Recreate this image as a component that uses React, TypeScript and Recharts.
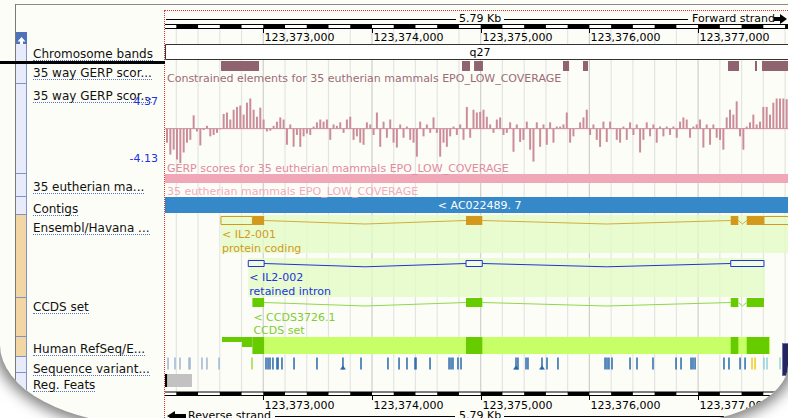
import React from "react";
import {
  ComposedChart,
  BarChart,
  Bar,
  XAxis,
  YAxis,
  ReferenceArea,
  ReferenceLine,
  ReferenceDot,
} from "recharts";

const FONT = "'DejaVu Sans', Verdana, sans-serif";

// visible window (bp)
const VIEW_START = 123372096;
const VIEW_END = 123377827;
const WINDOW_END = 123377886; // 5.79 Kb

const kbTicks = [123373000, 123374000, 123375000, 123376000, 123377000];
const gridTicks = Array.from({ length: 29 }, (_, i) => 123372200 + i * 200);

const trackLabels = [
  { text: "Chromosome bands", y: 52 },
  { text: "35 way GERP scor...", y: 71 },
  { text: "35 way GERP scor...", y: 94 },
  { text: "35 eutherian ma...", y: 185 },
  { text: "Contigs", y: 207 },
  { text: "Ensembl/Havana ...", y: 226 },
  { text: "CCDS set", y: 305 },
  { text: "Human RefSeq/E...", y: 347 },
  { text: "Sequence variant...", y: 367 },
  { text: "Reg. Feats", y: 383 },
];

const gerpRangeLabels = ["4.37", "-4.13"];

const constrainedElements: [number, number][] = [
  [123372611, 123372961],
  [123374828, 123374902],
  [123374939, 123375021],
  [123375757, 123375813],
  [123375941, 123375987],
  [123377275, 123377376],
  [123377523, 123377542],
  [123377588, 123377900],
];

// GERP scores, one value per ~30 bp, left to right
const gerpScores = [
  -2.0, -3.7, -3.0, -4.4, -4.9, -3.4, -2.0, -1.6, 1.9, -0.4, -2.4, -0.2, 0.4, -1.1, -0.9, -0.6, -0.1, 2.1, 2.3, 1.3,
  2.7, 3.1, 3.3, 2.0, 3.7, 4.3, 2.7, 1.7, 3.0, 1.3, -0.4, -0.3, 0.4, 1.0, 1.6, 1.3, -2.3, 0.6, -2.6,
  -0.9, -2.6, -1.1, -0.7, -0.9, 0.3, 0.9, 1.3, 1.0, 1.3, -1.6, 0.6, 0.4, 0.9, -0.6, 1.3, 1.7, -1.6, -1.1, -2.0,
  -2.3, 0.9, 0.6, -0.9, 2.3, -2.6, 1.0, -1.3, 1.3, -2.0, -2.7, 0.6, -1.3, 0.3, -1.6, -2.0, -4.0, 1.0, -1.1,
  0.6, -0.6, 1.6, -0.6, -4.0, -2.0, -2.6, -1.1, 0.3, -0.9, 0.6, -1.6, 3.1, -1.3, 2.7, 2.3, 2.4, 2.7, 1.7, 0.6,
  -0.6, 1.3, 1.6, -0.9, -0.6, 0.9, -3.3, 0.6, -1.9, -1.6, 1.0, -3.0, -4.7, 0.9, -2.6, 0.6, -2.3, 0.9, -2.0,
  0.3, 0.3, 0.6, 2.3, -2.0, -1.1, 0.1, 0.9, 1.6, 2.7, -0.9, 0.6, -1.6, -2.6, 1.0, -1.9, 1.0, 0.1, -1.6, -2.0,
  0.3, -1.6, 0.9, -0.9, 0.6, -3.4, -1.6, 0.9, -1.1, 0.6, -2.0, 0.3, -1.1, 0.3, -0.9, 0.3, -1.3, 1.0, 1.6,
  1.3, -1.3, 0.3, 0.6, 1.3, -2.7, 0.6, -2.3, 0.6, -1.3, -1.6, -3.0, 1.6, 2.7, 2.0, 3.9, -1.1, -3.0, 0.3, 0.9,
  2.0, 0.6, 1.0, 3.1, 3.1, 2.0, 3.7, 4.3, 4.3, 4.3, 4.2,
];

// IL2-001 (protein coding)
const il2001Span: [number, number] = [123372611, 123377900];
const il2001Utr: [number, number][] = [
  [123372611, 123372900],
  [123377606, 123377900],
];
const il2001Exons: [number, number][] = [
  [123372900, 123373008],
  [123374865, 123375015],
  [123377300, 123377370],
  [123377447, 123377606],
];

// IL2-002 (retained intron)
const il2002Span: [number, number] = [123372862, 123377615];
const il2002Exons: [number, number][] = [
  [123372862, 123373008],
  [123374865, 123375015],
  [123377300, 123377606],
];

// CCDS3726.1
const ccdsExons: [number, number][] = [
  [123372900, 123373008],
  [123374865, 123375015],
  [123377300, 123377370],
  [123377447, 123377606],
];

// Human RefSeq/EST
const refseqSpan: [number, number] = [123373008, 123377662];
const refseqBlocks: [number, number, string][] = [
  [123372620, 123372804, "thin"],
  [123372804, 123372900, "step"],
  [123372900, 123373008, "full"],
  [123374865, 123375015, "full"],
  [123377300, 123377370, "full"],
  [123377447, 123377653, "full"],
];

const variantSites: [number, string][] = [
  [123372124, "light"], [123372188, "light"], [123372234, "light"], [123372317, "light"],
  [123372326, "light"], [123372436, "light"], [123372482, "light"], [123372593, "light"],
  [123372896, "green"],
  [123373025, "dark"], [123373044, "dark"], [123373062, "dark"], [123373089, "dark"],
  [123373126, "dark"], [123373136, "dark"], [123373172, "dark"], [123373283, "dark"],
  [123373494, "dark"], [123373733, "dark"], [123373899, "dark"], [123374147, "dark"],
  [123374249, "dark"], [123374322, "dark"], [123374396, "dark"], [123374405, "dark"],
  [123374534, "dark"], [123374709, "dark"], [123374727, "dark"], [123374745, "dark"],
  [123374791, "dark"], [123374819, "dark"], [123375325, "dark"], [123375343, "dark"],
  [123375417, "dark"], [123375435, "dark"], [123375564, "dark"], [123375610, "dark"],
  [123375711, "dark"], [123376144, "dark"], [123376162, "dark"], [123376180, "dark"],
  [123376208, "dark"], [123376374, "dark"], [123376438, "dark"], [123376585, "dark"],
  [123376797, "dark"], [123376843, "dark"], [123376935, "dark"], [123376953, "dark"],
  [123376972, "dark"], [123377238, "dark"], [123377284, "dark"], [123377386, "dark"],
  [123377432, "dark"], [123377496, "yellow"], [123377524, "yellow"],
  [123377606, "cyan"], [123377634, "cyan"], [123377754, "cyan"],
];
const variantTriangles = [123373733, 123375325, 123375564];

const regFeatures: [number, number, string][] = [
  [123372000, 123372344, "gray"],
  [123372000, 123372115, "black"],
];

// ---- layout / style ----
const PLOT_LEFT = 165;
const PLOT_W = 623;
const H = 418;

const ROW = {
  ruler: [24.5, 28.5],
  band: [44.5, 59.5],
  constrained: [61, 71],
  pink: [174, 183],
  contig: [197, 213],
  gene1Bg: [215, 253],
  gene1Box: [216.5, 224.5],
  gene1Mid: 220.5,
  gene2Bg: [258, 297],
  gene2Box: [260.5, 266.5],
  gene2Mid: 263.5,
  ccdsBox: [298, 307],
  ccdsMid: 302.5,
  refseq: [337, 354],
  variants: [357.5, 369.5],
  reg: [374, 387],
  rulerBottom: [392, 395.5],
};

const VARIANT_COLORS: Record<string, string> = {
  light: "#9db6d4",
  dark: "#2a68ac",
  green: "#99dd44",
  yellow: "#f2c81e",
  cyan: "#93cfdc",
};

const GOLD = "#d3991d";
const BLUE = "#2233dd";
const GREEN = "#66cc00";

const frame = [{ x: VIEW_START }, { x: VIEW_END }];

function RulerTick(props: any) {
  const { x, payload } = props;
  const xx = Math.round(x) + 0.5;
  const label = Number(payload.value).toLocaleString("en-US");
  return (
    <g>
      <line x1={xx} x2={xx} y1={28} y2={33} stroke="#000" />
      <text x={xx + 1} y={41} fontSize={11} fontFamily={FONT} fill="#000" textAnchor="start">
        {label}
      </text>
      <line x1={xx} x2={xx} y1={395} y2={400} stroke="#000" />
      <text x={xx + 1} y={408.5} fontSize={11} fontFamily={FONT} fill="#000" textAnchor="start">
        {label}
      </text>
    </g>
  );
}

const stackedLabel = (lines: string[], color: string, baselines: number[]) => (props: any) => {
  const vb = props.viewBox || { x: 0, y: 0 };
  return (
    <text fill={color} fontSize={11} fontFamily={FONT}>
      {lines.map((l, i) => (
        <tspan key={i} x={vb.x + 1} y={vb.y + baselines[i]}>
          {l}
        </tspan>
      ))}
    </text>
  );
};

function introns(exons: [number, number][], mid: number, depth: number, color: string, key: string) {
  const out: React.ReactNode[] = [];
  for (let i = 0; i < exons.length - 1; i++) {
    const a = exons[i][1];
    const b = exons[i + 1][0];
    const m = (a + b) / 2;
    out.push(
      <ReferenceLine
        key={`${key}-a${i}`}
        segment={[{ x: a, y: mid }, { x: m, y: mid + depth }]}
        stroke={color}
        ifOverflow="hidden"
      />,
      <ReferenceLine
        key={`${key}-b${i}`}
        segment={[{ x: m, y: mid + depth }, { x: b, y: mid }]}
        stroke={color}
        ifOverflow="hidden"
      />
    );
  }
  return out;
}

const axisX = (withTicks: boolean) => (
  <XAxis
    dataKey="x"
    type="number"
    domain={[VIEW_START, VIEW_END]}
    allowDataOverflow
    ticks={withTicks ? kbTicks : []}
    interval={0}
    height={1}
    axisLine={false}
    tickLine={false}
    tick={withTicks ? <RulerTick /> : false}
  />
);

function GridChart() {
  return (
    <ComposedChart width={PLOT_W} height={H + 1} data={frame} margin={{ top: 0, right: 0, bottom: 0, left: 0 }}>
      {axisX(false)}
      <YAxis type="number" domain={[0, H]} reversed hide allowDataOverflow />
      {gridTicks.map((t) => (
        <ReferenceLine
          key={t}
          segment={[{ x: t, y: 28 }, { x: t, y: 392 }]}
          stroke={t % 1000 === 0 ? "#cfcfcf" : "#e4e4e4"}
          strokeWidth={1.2}
          ifOverflow="hidden"
        />
      ))}
    </ComposedChart>
  );
}

function TrackChart() {
  return (
    <ComposedChart width={PLOT_W} height={H + 1} data={frame} margin={{ top: 0, right: 0, bottom: 0, left: 0 }}>
      {axisX(true)}
      <YAxis type="number" domain={[0, H]} reversed hide allowDataOverflow />

      {/* top ruler */}
      <ReferenceArea x1={VIEW_START - 200} x2={WINDOW_END} y1={ROW.ruler[0]} y2={ROW.ruler[1]} fill="#fff" fillOpacity={1} stroke="#000" ifOverflow="hidden" />
      {gridTicks.filter((_, i) => i % 2 === 0).map((t) => (
        <ReferenceArea key={`rt${t}`} x1={t} x2={t + 200} y1={ROW.ruler[0]} y2={ROW.ruler[1]} fill="#000" fillOpacity={1} ifOverflow="hidden" />
      ))}

      {/* chromosome band */}
      <ReferenceArea
        x1={VIEW_START + 5}
        x2={WINDOW_END}
        y1={ROW.band[0]}
        y2={ROW.band[1]}
        fill="#fff"
        fillOpacity={1}
        stroke="#333"
        ifOverflow="hidden"
        label={{ value: "q27", position: "center", fill: "#000", fontSize: 11, fontFamily: FONT }}
      />

      {/* constrained elements */}
      {constrainedElements.map(([a, b]) => (
        <ReferenceArea key={`ce${a}`} x1={a} x2={b} y1={ROW.constrained[0]} y2={ROW.constrained[1]} fill="#8f6470" fillOpacity={1} ifOverflow="hidden" />
      ))}

      {/* EPO low coverage band */}
      <ReferenceArea x1={VIEW_START} x2={WINDOW_END} y1={ROW.pink[0]} y2={ROW.pink[1]} fill="#f0a8b8" fillOpacity={1} ifOverflow="hidden" />

      {/* contig */}
      <ReferenceArea
        x1={VIEW_START}
        x2={WINDOW_END}
        y1={ROW.contig[0]}
        y2={ROW.contig[1]}
        fill="#3689c9"
        fillOpacity={1}
        ifOverflow="hidden"
        label={{ value: "< AC022489. 7", position: "center", fill: "#fff", fontSize: 11, fontFamily: FONT }}
      />

      {/* transcript backgrounds */}
      <ReferenceArea
        x1={il2001Span[0]}
        x2={il2001Span[1]}
        y1={ROW.gene1Bg[0]}
        y2={ROW.gene1Bg[1]}
        fill="#e2fbc4"
        fillOpacity={0.8}
        ifOverflow="hidden"
        label={stackedLabel(["< IL2-001", "protein coding"], GOLD, [23, 37])}
      />
      <ReferenceArea
        x1={il2002Span[0]}
        x2={il2002Span[1]}
        y1={ROW.gene2Bg[0]}
        y2={ROW.gene2Bg[1]}
        fill="#e2fbc4"
        fillOpacity={0.8}
        ifOverflow="hidden"
        label={stackedLabel(["< IL2-002", "retained intron"], BLUE, [23, 37])}
      />

      {/* IL2-001 */}
      {introns(il2001Exons, ROW.gene1Mid, 3.5, "#d8aa3c", "g1")}
      {il2001Utr.map(([a, b]) => (
        <ReferenceArea key={`u1${a}`} x1={a} x2={b} y1={ROW.gene1Box[0]} y2={ROW.gene1Box[1]} fill="none" stroke={GOLD} ifOverflow="hidden" />
      ))}
      {il2001Exons.map(([a, b]) => (
        <ReferenceArea key={`e1${a}`} x1={a} x2={b} y1={ROW.gene1Box[0] - 0.5} y2={ROW.gene1Box[1] + 0.5} fill={GOLD} fillOpacity={1} ifOverflow="hidden" />
      ))}

      {/* IL2-002 */}
      {introns(il2002Exons, ROW.gene2Mid, 3.3, BLUE, "g2")}
      {il2002Exons.map(([a, b]) => (
        <ReferenceArea key={`e2${a}`} x1={a} x2={b} y1={ROW.gene2Box[0]} y2={ROW.gene2Box[1]} fill="#fff" fillOpacity={0.4} stroke={BLUE} ifOverflow="hidden" />
      ))}

      {/* CCDS */}
      {introns(ccdsExons, ROW.ccdsMid, 3.5, "#8fd84a", "cc")}
      {ccdsExons.map(([a, b], i) => (
        <ReferenceArea
          key={`cc${a}`}
          x1={a}
          x2={b}
          y1={ROW.ccdsBox[0]}
          y2={ROW.ccdsBox[1]}
          fill={GREEN}
          fillOpacity={1}
          ifOverflow="hidden"
          label={i === 0 ? stackedLabel(["< CCDS3726.1", "CCDS set"], "#80cc33", [23, 36]) : undefined}
        />
      ))}

      {/* RefSeq / EST */}
      <ReferenceArea x1={refseqSpan[0]} x2={refseqSpan[1]} y1={ROW.refseq[0]} y2={ROW.refseq[1]} fill="#c6ff66" fillOpacity={1} ifOverflow="hidden" />
      {refseqBlocks.map(([a, b, kind]) => (
        <ReferenceArea
          key={`rs${a}`}
          x1={a}
          x2={b}
          y1={ROW.refseq[0]}
          y2={kind === "thin" ? ROW.refseq[0] + 5 : kind === "step" ? ROW.refseq[0] + 10 : ROW.refseq[1]}
          fill={GREEN}
          fillOpacity={1}
          ifOverflow="hidden"
        />
      ))}

      {/* sequence variants */}
      {variantSites.map(([p, kind]) => (
        <ReferenceLine
          key={`v${p}`}
          segment={[{ x: p, y: ROW.variants[0] }, { x: p, y: ROW.variants[1] }]}
          stroke={VARIANT_COLORS[kind]}
          strokeWidth={1.5}
          ifOverflow="hidden"
        />
      ))}
      {variantTriangles.map((p) => (
        <ReferenceDot
          key={`t${p}`}
          x={p}
          y={367.5}
          r={3}
          ifOverflow="hidden"
          shape={(s: any) => (
            <path d={`M${s.cx - 3},${s.cy + 2} L${s.cx},${s.cy - 2} L${s.cx + 3},${s.cy + 2} Z`} fill={VARIANT_COLORS.dark} />
          )}
        />
      ))}

      {/* regulatory features */}
      {regFeatures.map(([a, b, kind]) => (
        <ReferenceArea key={`rf${kind}`} x1={a} x2={b} y1={ROW.reg[0]} y2={ROW.reg[1]} fill={kind === "black" ? "#000" : "#c2c2c2"} fillOpacity={1} ifOverflow="hidden" />
      ))}

      {/* bottom ruler */}
      <ReferenceArea x1={VIEW_START - 200} x2={WINDOW_END} y1={ROW.rulerBottom[0]} y2={ROW.rulerBottom[1]} fill="#fff" fillOpacity={1} stroke="#000" ifOverflow="hidden" />
      {gridTicks.filter((_, i) => i % 2 === 0).map((t) => (
        <ReferenceArea key={`rb${t}`} x1={t} x2={t + 200} y1={ROW.rulerBottom[0]} y2={ROW.rulerBottom[1]} fill="#000" fillOpacity={1} ifOverflow="hidden" />
      ))}
    </ComposedChart>
  );
}

function GerpChart() {
  const data = gerpScores.map((v, i) => ({ i, v }));
  return (
    <BarChart width={PLOT_W} height={65} data={data} margin={{ top: 0, right: 0, bottom: 0, left: 0 }} barCategoryGap={0}>
      <XAxis dataKey="i" hide />
      <YAxis type="number" domain={[-4.9, 4.37]} hide allowDataOverflow />
      <ReferenceLine y={0} stroke="#cc8d9a" />
      <Bar dataKey="v" fill="#cc8d9a" barSize={2} isAnimationActive={false} />
    </BarChart>
  );
}

const abs = (extra: React.CSSProperties): React.CSSProperties => ({ position: "absolute", ...extra });

export default function App() {
  const cells = [
    { top: 44, bottom: 84, c: "#e8ecfa" },
    { top: 84, bottom: 174, c: "#e8ecfa" },
    { top: 174, bottom: 197, c: "#e8ecfa" },
    { top: 197, bottom: 215, c: "#e8ecfa" },
    { top: 215, bottom: 298, c: "#f2d6a4" },
    { top: 298, bottom: 337, c: "#f2d6a4" },
    { top: 337, bottom: 357, c: "#f2d6a4" },
    { top: 357, bottom: 373, c: "#e8ecfa" },
    { top: 373, bottom: 392, c: "#e8ecfa" },
    { top: 392, bottom: 430, c: "#e8ecfa" },
  ];
  const trackText = (text: string, y: number, color: string) => (
    <div style={abs({ left: 167, top: y - 6.5, fontSize: 11, lineHeight: "13px", color, whiteSpace: "nowrap" })}>{text}</div>
  );
  return (
    <div style={{ position: "fixed", left: 0, top: 0, width: 788, height: 418, overflow: "hidden", background: "#fff", fontFamily: FONT }}>
      <div
        style={abs({
          left: 0,
          top: 0,
          width: 788,
          height: 425,
          background: "#fdfdf7",
          overflow: "hidden",
          borderBottomLeftRadius: "150px 80px",
          borderBottomRightRadius: "130px 60px",
          boxShadow: "0 0 14px 6px rgba(0,0,0,0.5)",
        })}
      >
        {/* panel frame */}
        <div style={abs({ left: 15, top: 4, width: 773, height: 0, borderTop: "1px solid #8a8a8a" })} />
        <div style={abs({ left: 15, top: 4, width: 0, height: 430, borderLeft: "1px solid #7a7a7a" })} />

        {/* left column */}
        <div style={abs({ left: 16, top: 32, width: 11, height: 12, background: "#4f73b9" })}>
          <svg width={11} height={12}>
            <path d="M5.5,2 L9.5,6.5 L7,6.5 L7,10 L4,10 L4,6.5 L1.5,6.5 Z" fill="#fff" />
          </svg>
        </div>
        {cells.map((c) => (
          <div
            key={c.top}
            style={abs({
              left: 16,
              top: c.top,
              width: 10,
              height: c.bottom - c.top - 1,
              background: c.c,
              borderRight: "1px solid #7d93c9",
              borderBottom: "1px solid #7d93c9",
            })}
          />
        ))}
        {trackLabels.map((l, i) => (
          <div key={i} style={abs({ left: 33, top: l.y - 5.2, fontSize: 12, whiteSpace: "nowrap" })}>
            <span style={{ display: "inline-block", lineHeight: "11px", borderBottom: "1px dotted #5577c4", color: "#111" }}>{l.text}</span>
          </div>
        ))}
        <div style={abs({ right: 788 - 158, top: 101 - 6.5, fontSize: 11, lineHeight: "13px", color: "#2233dd" })}>{gerpRangeLabels[0]}</div>
        <div style={abs({ right: 788 - 158, top: 158 - 6.5, fontSize: 11, lineHeight: "13px", color: "#2233dd" })}>{gerpRangeLabels[1]}</div>

        {/* chart layers */}
        <div style={abs({ left: PLOT_LEFT, top: 0 })}>
          <GridChart />
        </div>
        <div style={abs({ left: PLOT_LEFT, top: 0 })}>
          <TrackChart />
        </div>
        <div style={abs({ left: PLOT_LEFT, top: 98 })}>
          <GerpChart />
        </div>

        {/* track captions */}
        {trackText("Constrained elements for 35 eutherian mammals EPO_LOW_COVERAGE", 78, "#9a6c76")}
        {trackText("GERP scores for 35 eutherian mammals EPO_LOW_COVERAGE", 168, "#e08a9e")}
        {trackText("35 eutherian mammals EPO_LOW_COVERAGE", 191, "#f4aabd")}

        {/* scale bar & strand */}
        <div style={abs({ left: 165, top: 10, width: 623, height: 0, borderTop: "1px dotted #e03030" })} />
        <div style={abs({ left: 164, top: 10, width: 0, height: 420, borderLeft: "1px dotted #e03030" })} />
        <div style={abs({ left: 166, top: 19, width: 290, height: 0, borderTop: "1px solid #000" })} />
        <div style={abs({ left: 459, top: 19 - 7, fontSize: 11, lineHeight: "14px" })}>5.79 Kb</div>
        <div style={abs({ left: 504, top: 19, width: 184, height: 0, borderTop: "1px solid #000" })} />
        <div style={abs({ left: 692, top: 19 - 7, fontSize: 11, lineHeight: "14px" })}>Forward strand</div>
        <svg style={abs({ left: 774, top: 14 })} width={14} height={10}>
          <rect x={0} y={3} width={6} height={4} fill="#000" />
          <path d="M6,0 L13,5 L6,10 Z" fill="#000" />
        </svg>

        <svg style={abs({ left: 166, top: 411 })} width={20} height={10}>
          <rect x={8} y={3} width={12} height={4} fill="#000" />
          <path d="M9,0 L1,5 L9,10 Z" fill="#000" />
        </svg>
        <div style={abs({ left: 188, top: 416 - 7, fontSize: 11, lineHeight: "14px" })}>Reverse strand</div>
        <div style={abs({ left: 275, top: 416, width: 180, height: 0, borderTop: "1px solid #000" })} />
        <div style={abs({ left: 459, top: 416 - 7, fontSize: 11, lineHeight: "14px" })}>5.79 Kb</div>
        <div style={abs({ left: 504, top: 416, width: 220, height: 0, borderTop: "1px solid #000" })} />

        {/* black overlay bar and side widget */}
        <div style={abs({ left: 0, top: 61, width: 165, height: 3, background: "#000" })} />
        <div style={abs({ left: 782, top: 343, width: 8, height: 31, background: "#24245e", border: "1px solid #7070a8" })} />
      </div>
    </div>
  );
}
